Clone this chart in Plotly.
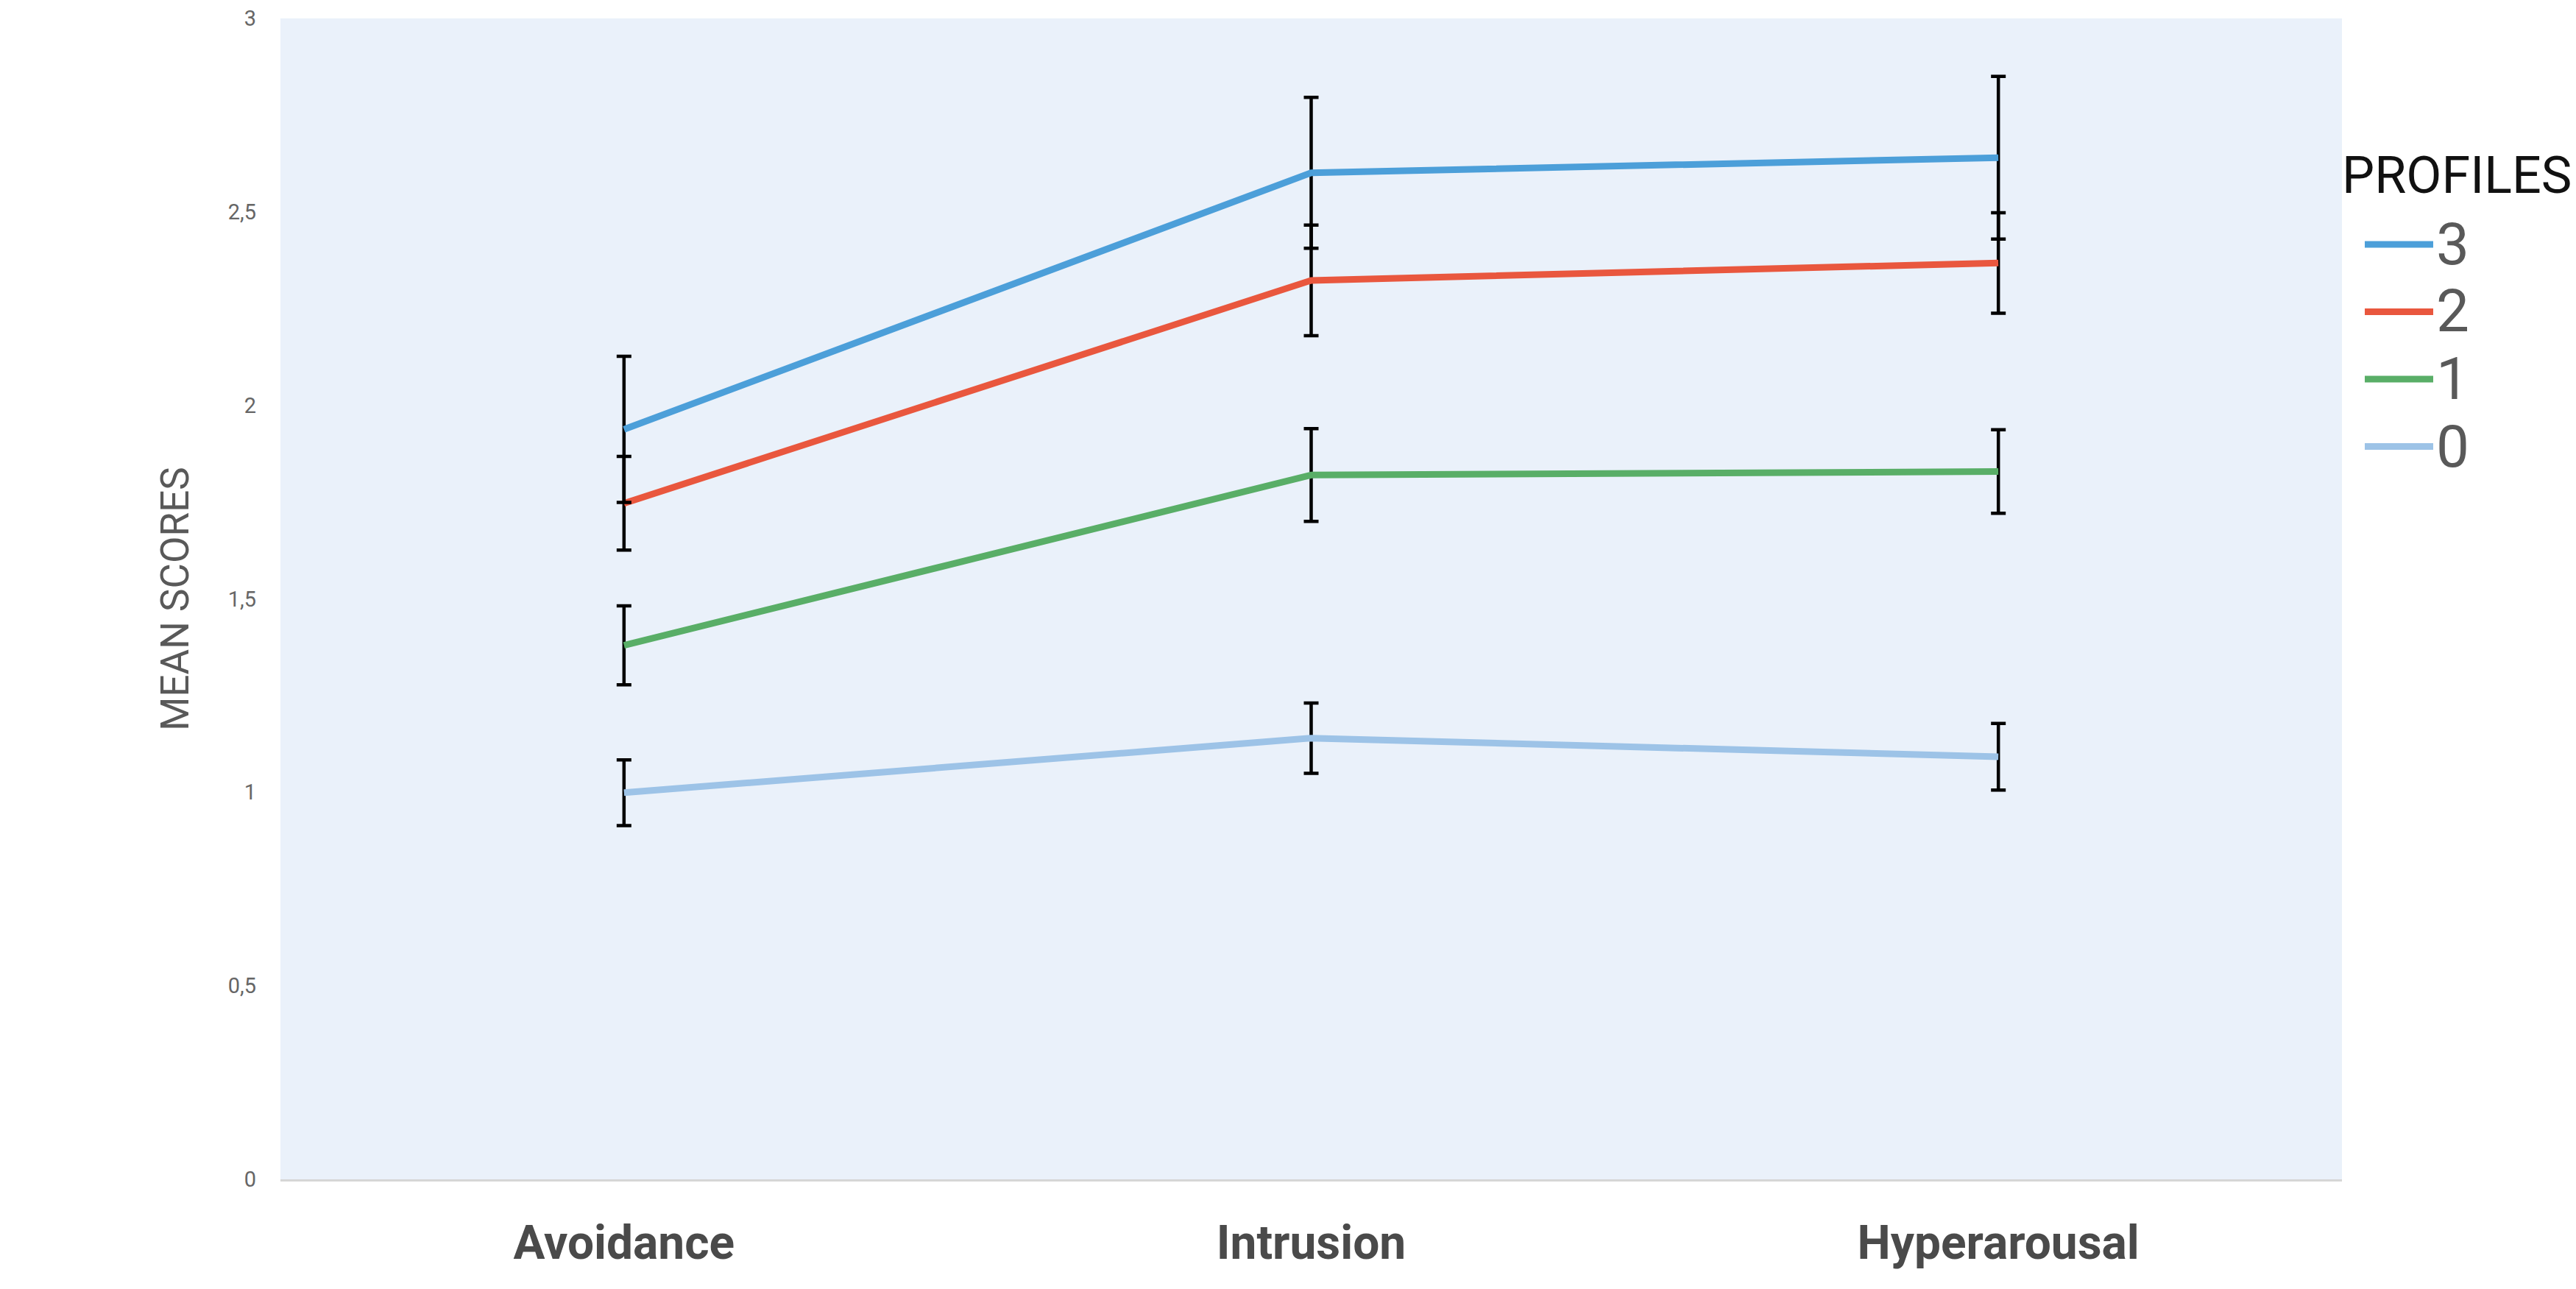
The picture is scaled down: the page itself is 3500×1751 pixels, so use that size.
import plotly.graph_objects as go

# ---------------- data ----------------
categories = ["Avoidance", "Intrusion", "Hyperarousal"]
profile_names = ["3", "2", "1", "0"]
profile3 = [1.938, 2.601, 2.640]
profile3_err = [0.189, 0.195, 0.210]
profile2 = [1.747, 2.323, 2.368]
profile2_err = [0.121, 0.143, 0.130]
profile1 = [1.380, 1.820, 1.829]
profile1_err = [0.102, 0.120, 0.108]
profile0 = [0.999, 1.140, 1.092]
profile0_err = [0.085, 0.091, 0.086]
y_tickvals = [0, 0.5, 1, 1.5, 2, 2.5, 3]
y_ticktext = ["0", "0,5", "1", "1,5", "2", "2,5", "3"]

series_values = [profile3, profile2, profile1, profile0]
series_errors = [profile3_err, profile2_err, profile1_err, profile0_err]
colors = ["#4C9FD9", "#E9573E", "#59AE67", "#9DC3E7"]

# ---------------- layout constants ----------------
W, H = 3500, 1751
L, R, T, B = 373, 326, 17, 157
PW, PH = W - L - R, H - T - B
FONT = "Roboto, Lato, sans-serif"


def xp(px):
    return (px - L) / PW


def yp(py):
    return (H - B - py) / PH


fig = go.Figure()
# draw lowest profile first so higher profiles lie on top
for name, vals, errs, col in reversed(list(zip(profile_names, series_values, series_errors, colors))):
    fig.add_trace(go.Scatter(
        x=categories, y=vals, name=name, mode="lines",
        line=dict(color=col, width=9),
        error_y=dict(type="data", array=errs, visible=True,
                     color="black", thickness=4.5, width=10),
        showlegend=False,
    ))

# legend (drawn from the series names and colours)
annotations = [dict(
    text="PROFILES", xref="paper", yref="paper",
    x=xp(3172), y=yp(230), xanchor="left", yanchor="middle",
    showarrow=False, font=dict(family=FONT, size=70, color="#111111"),
)]
shapes = []
for i, (name, col) in enumerate(zip(profile_names, colors)):
    cy = 324 + i * 91.5
    shapes.append(dict(type="line", xref="paper", yref="paper",
                       x0=xp(3205), x1=xp(3298), y0=yp(cy), y1=yp(cy),
                       line=dict(color=col, width=9)))
    annotations.append(dict(
        text=name, xref="paper", yref="paper",
        x=xp(3300), y=yp(cy), xanchor="left", yanchor="middle",
        showarrow=False, font=dict(family=FONT, size=80, color="#595959"),
    ))

fig.update_layout(
    width=W, height=H,
    margin=dict(l=L, r=R, t=T, b=B, autoexpand=False),
    paper_bgcolor="white",
    plot_bgcolor="#EAF1FA",
    showlegend=False,
    annotations=annotations,
    shapes=shapes,
    xaxis=dict(
        type="category", range=[-0.5, 2.5],
        showgrid=False, zeroline=False,
        showline=True, linecolor="#D6D6D6", linewidth=3,
        ticks="", ticklabelstandoff=28,
        tickfont=dict(family=FONT, size=64, color="#4A4A4A", weight="bold"),
    ),
    yaxis=dict(
        range=[0, 3], showgrid=False, zeroline=False, showline=False,
        tickmode="array", tickvals=y_tickvals, ticktext=y_ticktext,
        ticks="", ticklabelstandoff=32, ticklabeloverflow="allow",
        tickfont=dict(family=FONT, size=29, color="#666666"),
        title=dict(text="MEAN SCORES", standoff=36,
                   font=dict(family=FONT, size=53, color="#595959")),
    ),
)

fig.write_html("out.html")
